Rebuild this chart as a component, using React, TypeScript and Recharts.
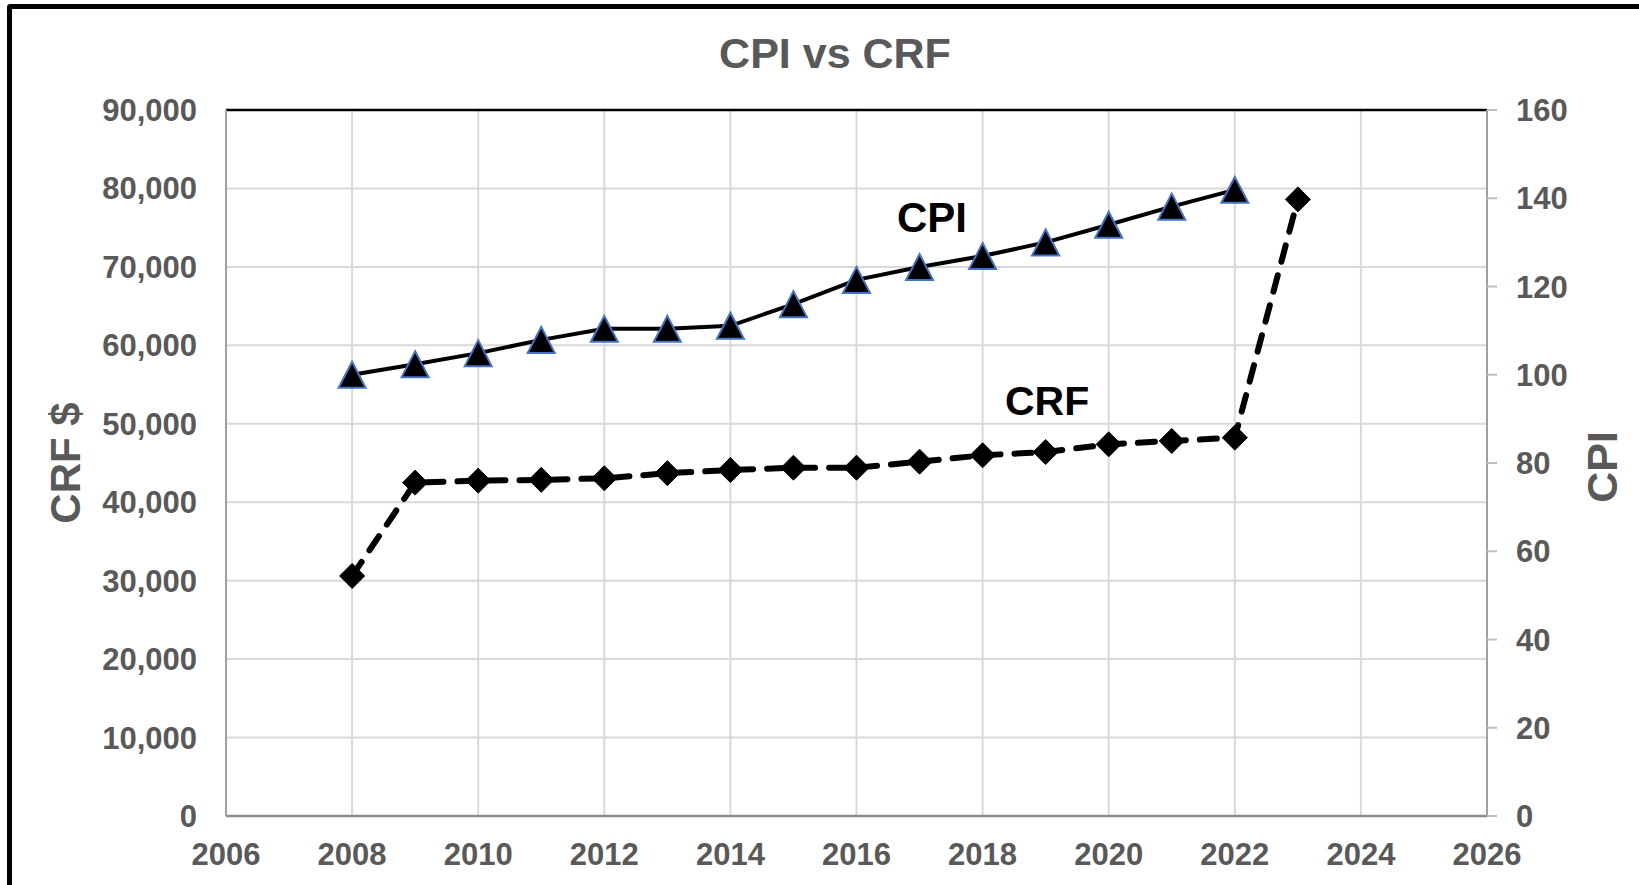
import React from "react";
import {
  ComposedChart,
  Line,
  XAxis,
  YAxis,
  CartesianGrid,
  ReferenceLine,
} from "recharts";

const years = [2008, 2009, 2010, 2011, 2012, 2013, 2014, 2015, 2016, 2017, 2018, 2019, 2020, 2021, 2022, 2023];
const cpiValues: (number | null)[] = [100, 102.4, 104.9, 107.9, 110.4, 110.4, 111.1, 116.0, 121.5, 124.4, 126.9, 130.0, 134.0, 138.1, 141.9, null];
const crfValues: number[] = [30600, 42500, 42750, 42850, 43050, 43700, 44100, 44400, 44400, 45170, 45980, 46400, 47380, 47810, 48230, 78600];

const xTicks = [2006, 2008, 2010, 2012, 2014, 2016, 2018, 2020, 2022, 2024, 2026];
const leftTicks = [0, 10000, 20000, 30000, 40000, 50000, 60000, 70000, 80000, 90000];
const rightTicks = [0, 20, 40, 60, 80, 100, 120, 140, 160];

const data = years.map((year, i) => ({ year, cpi: cpiValues[i], crf: crfValues[i] }));

const FONT = "'Liberation Sans', Arial, sans-serif";
const GRAY = "#595959";

const Triangle = (props: any) => {
  const { cx, cy, index } = props;
  if (cx == null || cy == null || props.value == null) return <g key={`t-${index}`} />;
  const w = 13.5;
  const h = 13;
  return (
    <path
      key={`t-${index}`}
      d={`M${cx},${cy - h} L${cx + w},${cy + h} L${cx - w},${cy + h} Z`}
      fill="#000"
      stroke="#4472C4"
      strokeWidth={2}
      strokeLinejoin="miter"
    />
  );
};

const Diamond = (props: any) => {
  const { cx, cy, index } = props;
  if (cx == null || cy == null) return <g key={`d-${index}`} />;
  const r = 12.5;
  return (
    <path
      key={`d-${index}`}
      d={`M${cx},${cy - r} L${cx + r},${cy} L${cx},${cy + r} L${cx - r},${cy} Z`}
      fill="#000"
      stroke="#000"
      strokeWidth={1}
    />
  );
};

const fmt = (v: number) => v.toLocaleString("en-US");

export default function App() {
  return (
    <div style={{ position: "absolute", left: 0, top: 0, width: 1639, height: 885, background: "#fff", overflow: "hidden" }}>
      <div
        style={{
          position: "absolute",
          left: 7,
          top: 4,
          width: 1700,
          height: 1000,
          borderLeft: "5px solid #000",
          borderTop: "5px solid #000",
          borderTopLeftRadius: 4,
          boxSizing: "border-box",
        }}
      />
      <div style={{ position: "absolute", left: 0, top: 0 }}>
        <ComposedChart width={1639} height={885} data={data} margin={{ top: 110, right: 52, bottom: 19, left: 106 }}>
          <CartesianGrid yAxisId="left" stroke="#d9d9d9" strokeWidth={2} verticalPoints={undefined} />
          <XAxis
            dataKey="year"
            type="number"
            domain={[2006, 2026]}
            ticks={xTicks}
            height={50}
            axisLine={{ stroke: "#8c8c8c", strokeWidth: 2.5 }}
            tickLine={false}
            tickSize={0}
            tickMargin={27}
            tick={{ fill: GRAY, fontSize: 31, fontWeight: "bold", fontFamily: FONT }}
            interval={0}
          />
          <YAxis
            yAxisId="left"
            orientation="left"
            domain={[0, 90000]}
            ticks={leftTicks}
            width={120}
            axisLine={{ stroke: "#a0a0a0", strokeWidth: 2 }}
            tickLine={false}
            tickSize={0}
            tickMargin={29}
            tickFormatter={fmt}
            tick={{ fill: GRAY, fontSize: 31, fontWeight: "bold", fontFamily: FONT }}
            interval={0}
          />
          <YAxis
            yAxisId="right"
            orientation="right"
            domain={[0, 160]}
            ticks={rightTicks}
            width={100}
            axisLine={{ stroke: "#a0a0a0", strokeWidth: 2 }}
            tickLine={{ stroke: "#bfbfbf", strokeWidth: 2 }}
            tickSize={10}
            tickMargin={19}
            tick={{ fill: GRAY, fontSize: 31, fontWeight: "bold", fontFamily: FONT }}
            interval={0}
          />
          <ReferenceLine yAxisId="left" y={90000} stroke="#000" strokeWidth={2.5} />
          <Line
            yAxisId="left"
            type="linear"
            dataKey="crf"
            stroke="#000"
            strokeWidth={6}
            strokeDasharray="17 14"
            strokeLinecap="round"
            dot={(p: any) => <Diamond {...p} />}
            activeDot={false}
            isAnimationActive={false}
          />
          <Line
            yAxisId="right"
            type="linear"
            dataKey="cpi"
            stroke="#000"
            strokeWidth={4}
            dot={(p: any) => <Triangle {...p} />}
            activeDot={false}
            connectNulls={false}
            isAnimationActive={false}
          />
        </ComposedChart>
      </div>
      <svg
        width={1639}
        height={885}
        style={{ position: "absolute", left: 0, top: 0, pointerEvents: "none" }}
      >
        <text x={835} y={67.5} textAnchor="middle" fill={GRAY} fontSize={43} fontWeight="bold" fontFamily={FONT}>
          CPI vs CRF
        </text>
        <text x={80} y={463} textAnchor="middle" fill={GRAY} fontSize={42} fontWeight="bold" fontFamily={FONT} transform="rotate(-90 80 463)">
          CRF $
        </text>
        <text x={1617} y={467} textAnchor="middle" fill={GRAY} fontSize={43} fontWeight="bold" fontFamily={FONT} transform="rotate(-90 1617 467)">
          CPI
        </text>
        <text x={897} y={232} textAnchor="start" fill="#000" fontSize={42} fontWeight="bold" fontFamily={FONT}>
          CPI
        </text>
        <text x={1005} y={415} textAnchor="start" fill="#000" fontSize={41} fontWeight="bold" fontFamily={FONT}>
          CRF
        </text>
      </svg>
    </div>
  );
}
